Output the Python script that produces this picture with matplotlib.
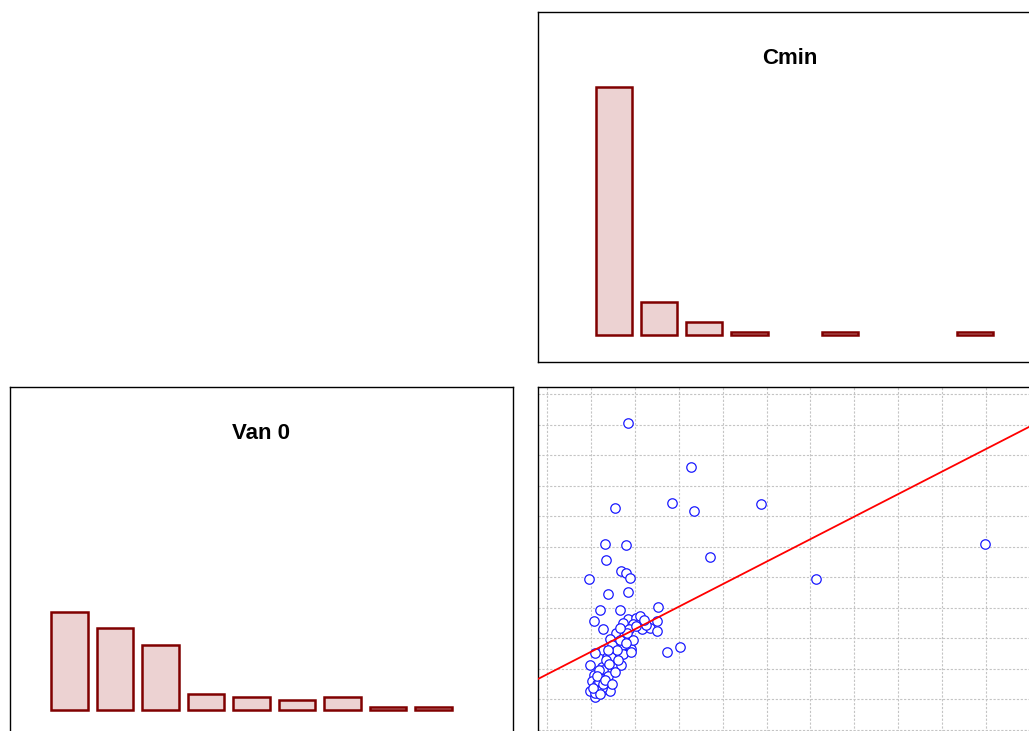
"""
Corner of a scatterplot matrix for Cmin and Van 0: histograms on the diagonal
panels and a scatter of Van 0 against Cmin with its linear fit.
"""

import matplotlib

matplotlib.use("Agg")
import matplotlib.pyplot as plt
import numpy as np

plt.rcParams["font.family"] = ["Liberation Sans", "DejaVu Sans"]

# ---------------------------------------------------------------------------
# Histogram counts (bins indexed from the left)
# ---------------------------------------------------------------------------
CMIN_BINS = np.arange(9)
CMIN_COUNTS = [76, 10, 4, 1, 0, 1, 0, 0, 1]

VAN_BINS = np.arange(9)
VAN_COUNTS = [30, 25, 20, 5, 4, 3, 4, 1, 1]

# ---------------------------------------------------------------------------
# Scatter data: Cmin (x) vs Van 0 (y), in grid units
# ---------------------------------------------------------------------------
CMIN = [
    1.84, 3.28, 2.84, 1.54, 3.36, 4.87, 1.32, 1.80, 1.35, 3.72,
    9.98, 1.69, 1.80, 1.88, 0.95, 6.13, 1.40, 1.84, 1.21, 1.66,
    2.54, 1.06, 1.28, 2.73, 3.02,
    1.84, 1.73, 2.02, 2.13, 1.95, 1.87, 2.16, 2.35, 2.51, 2.51,
    1.58, 1.44, 1.76, 1.73, 1.91, 1.28, 1.10, 1.36, 1.46, 1.73,
    0.99, 1.25, 1.54, 1.69, 1.62, 1.06, 1.28, 1.40, 1.03, 1.21,
    1.14, 0.99, 1.10, 1.10, 1.32, 1.44, 1.66, 1.92, 1.18, 1.25,
    1.82, 1.48, 1.34, 1.55, 1.18, 2.26, 1.96, 1.59, 1.28, 1.41,
    1.14, 1.32, 1.48, 1.05, 1.21, 1.39, 1.80, 2.03, 1.66, 2.21,
]
VAN0 = [
    10.04, 8.60, 7.44, 7.27, 7.17, 7.39, 6.10, 6.05, 5.57, 5.67,
    6.10, 5.20, 5.15, 4.99, 4.94, 4.93, 4.45, 4.51, 3.93, 3.93,
    4.04, 3.56, 3.30, 2.55, 2.71,
    3.62, 3.51, 3.67, 3.72, 3.46, 3.30, 3.30, 3.35, 3.56, 3.24,
    3.18, 2.98, 3.09, 2.77, 2.66, 2.61, 2.51, 2.40, 2.40, 2.50,
    2.13, 2.07, 2.07, 2.13, 2.29, 1.81, 1.96, 1.76, 1.59, 1.70,
    1.50, 1.28, 1.07, 1.22, 1.33, 1.28, 2.95, 2.56, 1.58, 1.36,
    3.18, 2.78, 2.29, 1.90, 1.96, 3.44, 2.95, 2.62, 1.51, 2.16,
    1.77, 1.64, 1.51, 1.37, 1.18, 2.62, 2.85, 3.40, 3.34, 3.60,
]

# Linear fit Van 0 = a + b * Cmin
FIT_INTERCEPT = 1.82
FIT_SLOPE = 0.738

BAR_EDGE = "#800000"
BAR_FILL = "#ecd2d2"

# panel boxes as [left, bottom, width, height] in figure fractions
PANEL_W, PANEL_H = 0.4888, 0.4788
POS_TOP_RIGHT = [0.5228, 0.5048, PANEL_W, PANEL_H]
POS_BOTTOM_LEFT = [0.0097, -0.0082, PANEL_W, PANEL_H]
POS_BOTTOM_RIGHT = [0.5228, -0.0082, PANEL_W, PANEL_H]

HIST_YLIM = (-8.26, 98.8)


def _clean_panel(ax):
    ax.set_xticks([])
    ax.set_yticks([])
    for spine in ax.spines.values():
        spine.set_color("black")
        spine.set_linewidth(1.0)


def draw_histogram(ax, bins, counts, title, xlim):
    _clean_panel(ax)
    bins = np.asarray(bins)
    counts = np.asarray(counts)
    # empty bins get no bar at all
    keep = counts > 0
    ax.bar(bins[keep], counts[keep], width=0.8, color=BAR_FILL,
           edgecolor=BAR_EDGE, linewidth=1.8)
    ax.set_xlim(*xlim)
    ax.set_ylim(*HIST_YLIM)
    ax.text(0.5, 0.866, title, transform=ax.transAxes, ha="center",
            va="center", fontsize=16, fontweight="bold")


def draw_scatter(ax):
    ax.set_xlim(-0.205, 11.25)
    ax.set_ylim(-0.23, 11.23)
    ax.set_xticks(np.arange(0, 12))
    ax.set_yticks(np.arange(0, 12))
    ax.tick_params(length=0, labelbottom=False, labelleft=False)
    ax.grid(True, color="#c4c4c4", linestyle=(0, (2, 1.5)), linewidth=0.8)
    ax.set_axisbelow(True)
    for spine in ax.spines.values():
        spine.set_color("black")
        spine.set_linewidth(1.0)

    ax.plot(CMIN, VAN0, linestyle="none", marker="o", markersize=6.8,
            markerfacecolor="white", markeredgecolor="#1a1aff",
            markeredgewidth=0.9, zorder=3)

    xs = np.array(ax.get_xlim())
    ax.plot(xs, FIT_INTERCEPT + FIT_SLOPE * xs, color="#ff0000",
            linewidth=1.3, zorder=4)


def main():
    fig = plt.figure(figsize=(10.29, 7.31), dpi=100)

    ax_cmin = fig.add_axes(POS_TOP_RIGHT)
    draw_histogram(ax_cmin, CMIN_BINS, CMIN_COUNTS, "Cmin", (-1.68, 9.45))

    ax_van = fig.add_axes(POS_BOTTOM_LEFT)
    draw_histogram(ax_van, VAN_BINS, VAN_COUNTS, "Van 0", (-1.31, 9.75))

    ax_sc = fig.add_axes(POS_BOTTOM_RIGHT)
    draw_scatter(ax_sc)

    fig.savefig("out.png", dpi=100)
    plt.close(fig)


if __name__ == "__main__":
    main()
